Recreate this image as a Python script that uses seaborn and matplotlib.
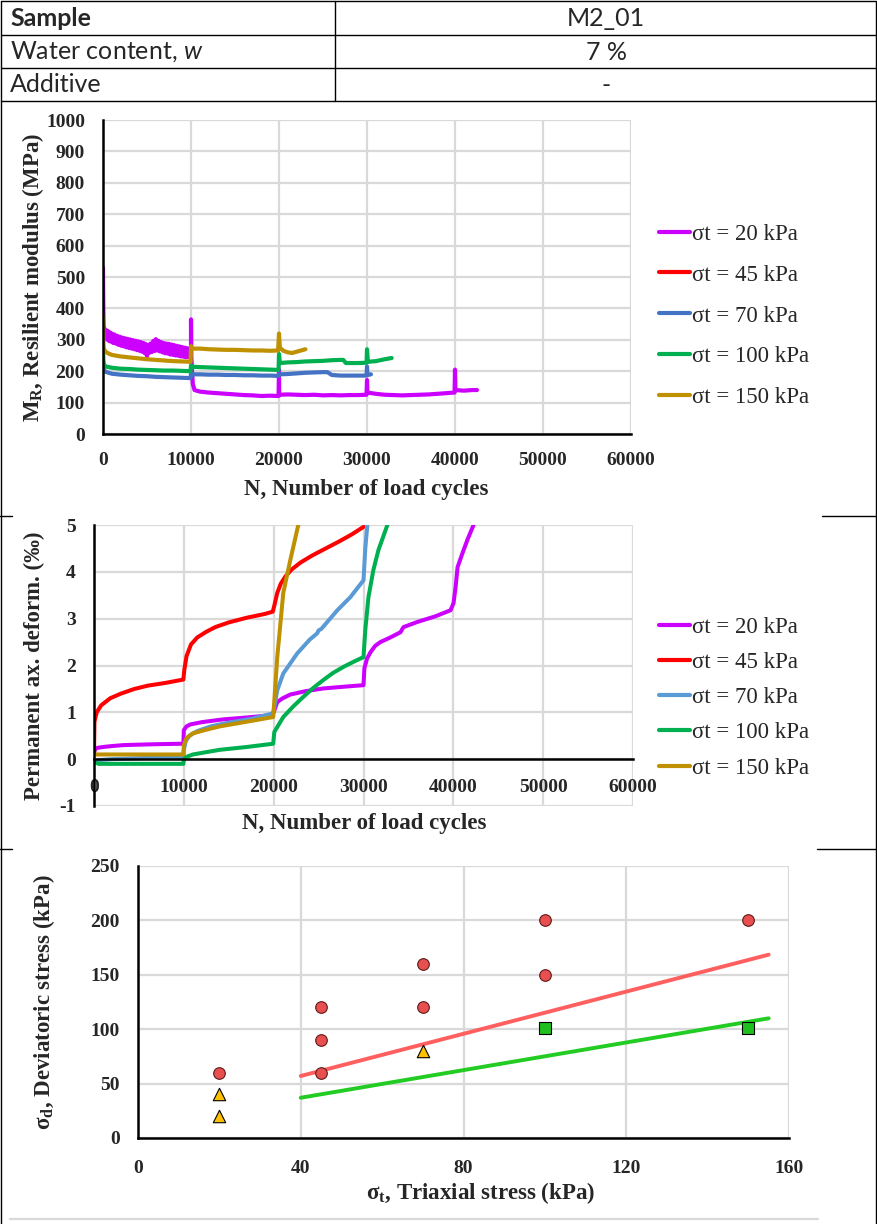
import numpy as np
import pandas as pd
import matplotlib
matplotlib.use("Agg")
import matplotlib.pyplot as plt
from matplotlib.lines import Line2D
import seaborn as sns

# ---------------- data ----------------
table_rows = [("Sample", "M2_01"), ("Water content, $\\mathit{w}$", "7 %"), ("Additive", "-")]
series_labels = ["σt = 20 kPa", "σt = 45 kPa", "σt = 70 kPa", "σt = 100 kPa", "σt = 150 kPa"]

# Chart 1: resilient modulus
mr20_N = [0, 30, 60, 100, 150, 200, 300, 400, 500, 600, 700, 800, 900, 1000, 1150, 1300, 1450, 1600, 1750, 1900,
          2050, 2200, 2350, 2500, 2650, 2800, 2950, 3100, 3250, 3400, 3550, 3700, 3850, 4000, 4150, 4300, 4450,
          4600, 4750, 4900, 5000, 5100, 5250, 5400, 5550, 5700, 5850, 6000, 6150, 6300, 6450, 6600, 6750, 6900,
          7050, 7200, 7350, 7500, 7650, 7800, 7950, 8100, 8250, 8400, 8550, 8700, 8850, 9000, 9150, 9300, 9450,
          9600, 9750, 9900, 10000, 10000, 10030, 10200, 10400, 11000, 12000, 13000, 14000, 15000, 16000, 17000,
          18000, 19000, 19950, 20000, 20020, 21000, 22000, 23000, 24000, 25000, 26000, 27000, 28000, 29000, 29950,
          30000, 30050, 31000, 32000, 33000, 34000, 35000, 36000, 37000, 38000, 39000, 39950, 40000, 40050, 41000,
          42000, 42500]
mr20_v = [530, 420, 360, 335, 312, 335, 305, 330, 300, 327, 296, 323, 294, 320, 290, 317, 288, 313, 284, 310,
          281, 307, 279, 305, 276, 303, 274, 301, 272, 299, 270, 297, 267, 295, 265, 293, 262, 290, 257, 286,
          248, 284, 258, 288, 261, 296, 264, 302, 266, 297, 263, 293, 260, 290, 257, 288, 256, 287, 253, 285,
          252, 283, 250, 281, 249, 279, 247, 277, 246, 275, 244, 273, 245, 268, 255, 365, 250, 160, 140, 135,
          132, 130, 128, 126, 124, 123, 121, 122, 121, 205, 125, 126, 125, 124, 125, 123, 124, 123, 124, 124,
          125, 172, 132, 128, 125, 124, 123, 124, 125, 126, 128, 130, 132, 205, 140, 138, 140, 140]
mr45_N = []
mr45_v = []
mr70_N = [0, 30, 100, 300, 1000, 2000, 3000, 4000, 5000, 6000, 7000, 8000, 9000, 9950, 10000, 10100, 11000, 12000,
          13000, 14000, 15000, 16000, 17000, 18000, 19000, 19950, 20000, 21000, 22000, 23000, 24000, 25000, 25500,
          26000, 27000, 28000, 29000, 29950, 30000, 30050, 30450]
mr70_v = [265, 215, 205, 198, 192, 189, 187, 185, 184, 182, 181, 180, 179, 178, 192, 190, 190, 189, 189, 188, 188,
          187, 187, 186, 186, 185, 190, 191, 193, 195, 196, 197, 197, 188, 186, 186, 186, 186, 215, 188, 190]
mr100_N = [0, 30, 100, 300, 1000, 2000, 3000, 4000, 5000, 6000, 7000, 8000, 9000, 9950, 10000, 10100, 11000, 12000,
           13000, 14000, 15000, 16000, 17000, 18000, 19000, 19950, 20000, 20100, 21000, 22000, 23000, 24000, 25000,
           26000, 27000, 27300, 27600, 28000, 29000, 29950, 30000, 30100, 31000, 32000, 32800]
mr100_v = [255, 235, 222, 215, 211, 208, 207, 205, 204, 203, 202, 202, 201, 200, 218, 214, 213, 212, 211, 210, 209,
           208, 207, 206, 205, 204, 255, 226, 228, 229, 231, 232, 233, 235, 236, 236, 226, 226, 226, 227, 270, 230,
           232, 238, 242]
mr150_N = [0, 30, 80, 200, 500, 1000, 2000, 3000, 4000, 5000, 6000, 7000, 8000, 9000, 9950, 10000, 10100, 11000,
           12000, 13000, 14000, 15000, 16000, 17000, 18000, 19000, 19900, 20000, 20100, 20500, 21000, 21500, 22000,
           22500, 23000]
mr150_v = [375, 300, 275, 265, 258, 252, 247, 244, 241, 238, 236, 234, 232, 231, 230, 280, 272, 272, 270, 269, 268,
           268, 267, 266, 266, 265, 266, 320, 275, 265, 260, 258, 262, 266, 270]

# Chart 2: permanent axial deformation
pd20_N = [0, 100, 330, 1000, 2000, 3230, 5000, 7000, 9950, 10000, 10300, 10700, 12000, 14400, 17000, 19840, 20000,
          20400, 21000, 21850, 23500, 25530, 28000, 30000, 30100, 30400, 30770, 31300, 31880, 33000, 34110, 34450,
          36000, 38000, 39690, 40020, 40250, 40470, 41020, 41600, 42250]
pd20_v = [0.13, 0.2, 0.24, 0.26, 0.28, 0.3, 0.31, 0.32, 0.33, 0.62, 0.7, 0.74, 0.79, 0.85, 0.89, 0.94, 1.0, 1.22,
          1.3, 1.38, 1.45, 1.51, 1.55, 1.58, 1.94, 2.15, 2.28, 2.42, 2.5, 2.6, 2.71, 2.82, 2.93, 3.05, 3.18, 3.33,
          3.67, 4.1, 4.4, 4.7, 5.0]
pd45_N = [0, 50, 300, 800, 1800, 3000, 4500, 6000, 8000, 9950, 10050, 10300, 10800, 11500, 12500, 13500, 15000,
          17000, 19000, 19900, 20100, 20400, 20800, 21300, 22000, 23000, 24300, 25800, 27300, 28700, 30000]
pd45_v = [0.1, 0.8, 1.0, 1.15, 1.3, 1.4, 1.5, 1.57, 1.63, 1.7, 1.9, 2.2, 2.45, 2.6, 2.72, 2.82, 2.92, 3.02, 3.1,
          3.15, 3.3, 3.55, 3.75, 3.9, 4.05, 4.2, 4.35, 4.5, 4.65, 4.8, 4.96]
pd70_N = [0, 500, 2000, 5000, 8000, 9950, 10000, 10200, 10600, 11500, 13000, 15000, 17500, 19950, 20400, 21070,
          22630, 24000, 24860, 25000, 25300, 27090, 28540, 30000, 30200, 30430]
pd70_v = [-0.05, -0.02, 0.0, 0.02, 0.04, 0.05, 0.2, 0.38, 0.5, 0.6, 0.7, 0.78, 0.86, 0.98, 1.47, 1.83, 2.26, 2.55,
          2.69, 2.75, 2.78, 3.18, 3.46, 3.82, 4.5, 5.0]
pd100_N = [0, 500, 2000, 5000, 9950, 10000, 10300, 11000, 14000, 17000, 19950, 20070, 21070, 22200, 23300, 24400,
           25530, 26600, 27760, 28900, 30000, 30200, 30550, 31100, 31670, 32660]
pd100_v = [-0.05, -0.1, -0.1, -0.1, -0.1, 0.0, 0.05, 0.1, 0.2, 0.26, 0.33, 0.58, 0.9, 1.13, 1.33, 1.52, 1.69, 1.84,
           1.97, 2.08, 2.18, 2.76, 3.46, 4.04, 4.47, 5.0]
pd150_N = [0, 2000, 5000, 9950, 10000, 10300, 11000, 12500, 14000, 17000, 19950, 20400, 21070, 21850, 22740]
pd150_v = [0.1, 0.1, 0.1, 0.1, 0.3, 0.45, 0.55, 0.63, 0.7, 0.8, 0.9, 2.18, 3.55, 4.25, 5.0]

# Chart 3: stress states
circ_st = [20, 45, 45, 45, 70, 70, 100, 100, 150]
circ_sd = [60, 60, 90, 120, 120, 160, 150, 200, 200]
tri_st = [20, 20, 70]
tri_sd = [20, 40, 80]
sq_st = [100, 150]
sq_sd = [101, 101]
red_line_st = [40, 155]
red_line_sd = [57, 168.5]
green_line_st = [40, 155]
green_line_sd = [37, 110]

# ---------------- style ----------------
tick_fs = 14
lab_fs = 16.5
leg_fs = 16.5

sns.set_theme(style="white")
plt.rcParams["font.family"] = ["Liberation Serif", "DejaVu Sans"]
plt.rcParams["font.weight"] = "bold"
plt.rcParams["xtick.labelsize"] = tick_fs
plt.rcParams["ytick.labelsize"] = tick_fs
plt.rcParams["axes.unicode_minus"] = False
plt.rcParams["mathtext.fontset"] = "custom"
plt.rcParams["mathtext.rm"] = "Lato:weight=normal"
plt.rcParams["mathtext.it"] = "Lato:style=italic:weight=normal"

W, H = 877, 1224
fig = plt.figure(figsize=(W / 100, H / 100), dpi=100)


def fx(x):
    return x / W


def fy(y):
    return 1 - y / H


def axes_px(l, r, t, b):
    return fig.add_axes([fx(l), fy(b), (r - l) / W, (b - t) / H])


def hline(x0, x1, y, color="black", lw=1.0):
    fig.add_artist(Line2D([fx(x0), fx(x1)], [fy(y), fy(y)], transform=fig.transFigure, color=color, lw=lw))


def vline(x, y0, y1, color="black", lw=1.0):
    fig.add_artist(Line2D([fx(x), fx(x)], [fy(y0), fy(y1)], transform=fig.transFigure, color=color, lw=lw))


# ---------------- table & frame ----------------
hline(1, 876, 1)
hline(1, 876, 35)
hline(1, 876, 68)
hline(1, 876, 101)
vline(335, 1, 101)
vline(1, 1, 1224)
vline(876, 1, 1224)
hline(0, 12, 516)
hline(822, 877, 516)
hline(0, 12, 849)
hline(817, 877, 849)
hline(10, 818, 1219, color="#D9D9D9", lw=1.6)

tfont = ["Lato", "DejaVu Sans"]
tfs = 18
row_y = [18, 52, 85]
for i, ((lab, val), yy) in enumerate(zip(table_rows, row_y)):
    fig.text(fx(10), fy(yy), lab, family=tfont, fontsize=tfs, weight="bold" if i == 0 else "normal",
             va="center", ha="left")
    fig.text(fx(606), fy(yy), val, family=tfont, fontsize=tfs, weight="normal", va="center", ha="center")

grid_c = "#D9D9D9"


def style_axes(ax, xt, yt):
    ax.set_axisbelow(True)
    ax.grid(True, color=grid_c, lw=1.6)
    for s in ["top", "right"]:
        ax.spines[s].set_visible(False)
    for s in ["left", "bottom"]:
        ax.spines[s].set_color("black")
        ax.spines[s].set_linewidth(1.8)
    ax.set_xticks(xt)
    ax.set_yticks(yt)
    ax.tick_params(length=0, pad=13, labelsize=tick_fs)
    ax.set_xlabel("")
    ax.set_ylabel("")


# ---------------- chart 1 ----------------
colors1 = ["#CC00FF", "#FF0000", "#4472C4", "#00B050", "#BF9000"]
ax1 = axes_px(103, 631, 120, 434)
mr_N = [mr20_N, mr45_N, mr70_N, mr100_N, mr150_N]
mr_v = [mr20_v, mr45_v, mr70_v, mr100_v, mr150_v]
df1 = pd.concat([pd.DataFrame({"N": n, "MR": v, "s": lab}) for n, v, lab in zip(mr_N, mr_v, series_labels)
                 if len(n)], ignore_index=True)
order1 = [lab for n, lab in zip(mr_N, series_labels) if len(n)]
pal1 = {lab: c for lab, c in zip(series_labels, colors1)}
for lab in order1:
    sns.lineplot(data=df1[df1.s == lab], x="N", y="MR", color=pal1[lab], sort=False, estimator=None,
                 lw=3.0, ax=ax1, legend=False)
ax1.set_xlim(0, 60000)
ax1.set_ylim(0, 1000)
style_axes(ax1, list(range(0, 60001, 10000)), list(range(0, 1001, 100)))
fig.text(fx(33), fy(277), r"M$_\mathregular{R}$, Resilient modulus (MPa)", rotation=90, ha="center", va="center",
         fontsize=lab_fs, weight="bold")
fig.text(fx(366), fy(489), "N, Number of load cycles", ha="center", va="center", fontsize=lab_fs, weight="bold")
h1 = [Line2D([0], [0], color=c, lw=3) for c in colors1]
fig.legend(h1, series_labels, loc="upper left", bbox_to_anchor=(fx(659), fy(223.5)), frameon=False,
           prop={"size": leg_fs, "weight": "normal"}, handlelength=1.35, handletextpad=0.1, borderpad=0,
           borderaxespad=0, labelspacing=0.87)

# ---------------- chart 2 ----------------
colors2 = ["#CC00FF", "#FF0000", "#5B9BD5", "#00B050", "#BF9000"]
ax2 = axes_px(94, 633, 525, 806)
pd_N = [pd20_N, pd45_N, pd70_N, pd100_N, pd150_N]
pd_v = [pd20_v, pd45_v, pd70_v, pd100_v, pd150_v]
df2 = pd.concat([pd.DataFrame({"N": n, "D": v, "s": lab}) for n, v, lab in zip(pd_N, pd_v, series_labels)],
                ignore_index=True)
pal2 = {lab: c for lab, c in zip(series_labels, colors2)}
for lab in series_labels:
    sns.lineplot(data=df2[df2.s == lab], x="N", y="D", color=pal2[lab], sort=False, estimator=None,
                 lw=2.9, ax=ax2, legend=False)
ax2.set_xlim(0, 60000)
ax2.set_ylim(-1, 5)
ax2.spines["bottom"].set_position(("data", 0))
style_axes(ax2, list(range(0, 60001, 10000)), list(range(-1, 6, 1)))
ax2.tick_params(axis="x", pad=14)
fig.text(fx(34), fy(666), "Permanent ax. deform. (‰)", rotation=90, ha="center", va="center",
         fontsize=lab_fs, weight="bold")
fig.text(fx(364), fy(824), "N, Number of load cycles", ha="center", va="center", fontsize=lab_fs, weight="bold")
h2 = [Line2D([0], [0], color=c, lw=3) for c in colors2]
fig.legend(h2, series_labels, loc="upper left", bbox_to_anchor=(fx(659), fy(616.5)), frameon=False,
           prop={"size": leg_fs, "weight": "normal"}, handlelength=1.35, handletextpad=0.1, borderpad=0,
           borderaxespad=0, labelspacing=0.62)

# ---------------- chart 3 ----------------
ax3 = axes_px(138, 789, 866, 1138)
sns.lineplot(x=red_line_st, y=red_line_sd, color="#FF5F5F", lw=2.8, ax=ax3, legend=False)
sns.lineplot(x=green_line_st, y=green_line_sd, color="#22CC22", lw=2.8, ax=ax3, legend=False)
sns.scatterplot(x=circ_st, y=circ_sd, marker="o", s=70, color="#E8504F", edgecolor="#5a1a1a", linewidth=0.8,
                ax=ax3, zorder=5, legend=False)
sns.scatterplot(x=tri_st, y=tri_sd, marker="^", s=80, color="#FFC000", edgecolor="black", linewidth=0.8,
                ax=ax3, zorder=5, legend=False)
sns.scatterplot(x=sq_st, y=sq_sd, marker="s", s=70, color="#1FBF1F", edgecolor="black", linewidth=0.8,
                ax=ax3, zorder=5, legend=False)
ax3.set_xlim(0, 160)
ax3.set_ylim(0, 250)
style_axes(ax3, list(range(0, 161, 40)), list(range(0, 251, 50)))
ax3.tick_params(axis="x", pad=16)
fig.text(fx(44), fy(1002), r"σ$_\mathregular{d}$, Deviatoric stress (kPa)", rotation=90, ha="center",
         va="center", fontsize=lab_fs, weight="bold")
fig.text(fx(481), fy(1193), r"σ$_\mathregular{t}$, Triaxial stress (kPa)", ha="center", va="center",
         fontsize=lab_fs, weight="bold")

for ax in (ax1, ax2, ax3):
    for t in ax.get_xticklabels() + ax.get_yticklabels():
        t.set_fontweight("bold")

fig.savefig("out.png", dpi=100)
